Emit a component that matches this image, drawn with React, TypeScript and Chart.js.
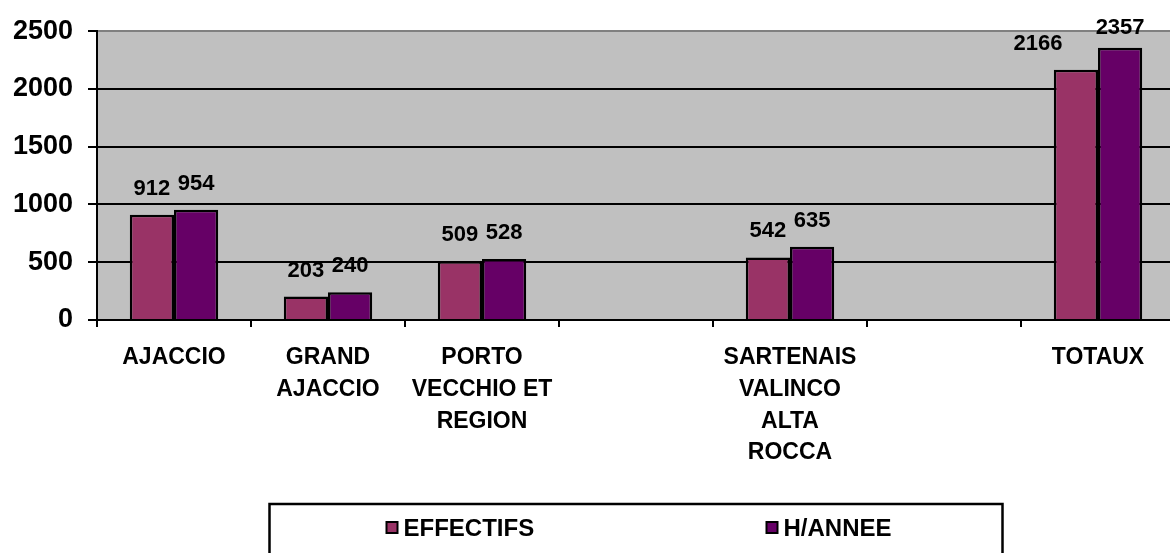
import React, { useEffect, useRef } from "react";
import { Chart, registerables } from "chart.js";

Chart.register(...registerables);

const CATEGORIES: (string | string[])[] = [
  ["AJACCIO"],
  ["GRAND", "AJACCIO"],
  ["PORTO", "VECCHIO ET", "REGION"],
  "",
  ["SARTENAIS", "VALINCO", "ALTA", "ROCCA"],
  "",
  ["TOTAUX"],
];
const SERIES_NAMES = ["EFFECTIFS", "H/ANNEE"];
const EFFECTIFS: (number | null)[] = [912, 203, 509, null, 542, null, 2166];
const H_ANNEE: (number | null)[] = [954, 240, 528, null, 635, null, 2357];
const Y_MIN = 0;
const Y_MAX = 2500;
const Y_STEP = 500;

const COLORS = ["#993366", "#660066"];
const FONT = "'Liberation Sans', Arial, sans-serif";

// manual nudges of individual value labels (as placed in the original chart)
const LABEL_NUDGE: Record<string, [number, number]> = {
  "0-6": [-38, 0],
  "1-6": [0, 6],
};

const plotBg = {
  id: "plotBg",
  beforeDraw(chart: any) {
    const { ctx, chartArea } = chart;
    ctx.save();
    ctx.fillStyle = "#C0C0C0";
    ctx.fillRect(chartArea.left, chartArea.top, chartArea.right - chartArea.left, chartArea.bottom - chartArea.top);
    ctx.restore();
  },
};

const valueLabels = {
  id: "valueLabels",
  afterDatasetsDraw(chart: any) {
    const { ctx } = chart;
    ctx.save();
    ctx.font = `bold 22px ${FONT}`;
    ctx.fillStyle = "#000";
    ctx.textAlign = "center";
    ctx.textBaseline = "alphabetic";
    chart.data.datasets.forEach((ds: any, i: number) => {
      const meta = chart.getDatasetMeta(i);
      meta.data.forEach((el: any, j: number) => {
        const v = ds.data[j];
        if (v === null || v === undefined) return;
        const [dx, dy] = LABEL_NUDGE[`${i}-${j}`] || [0, 0];
        ctx.fillText(String(v), el.x + dx, el.y - 20 + dy);
      });
    });
    ctx.restore();
  },
};

const boxLegend = {
  id: "boxLegend",
  afterDraw(chart: any) {
    const { ctx, chartArea } = chart;
    const cx = (chartArea.left + chartArea.right) / 2;
    const w = 733;
    const left = cx - w / 2;
    const top = 504;
    ctx.save();
    ctx.strokeStyle = "#000";
    ctx.lineWidth = 2.5;
    ctx.strokeRect(left, top, w, 120);
    ctx.font = `bold 24px ${FONT}`;
    ctx.textBaseline = "middle";
    ctx.textAlign = "left";
    chart.data.datasets.forEach((ds: any, i: number) => {
      const x = left + 117 + i * 380;
      const y = 528;
      ctx.fillStyle = ds.backgroundColor;
      ctx.fillRect(x, y - 6, 11, 11);
      ctx.lineWidth = 2;
      ctx.strokeStyle = "#000";
      ctx.strokeRect(x, y - 6, 11, 11);
      ctx.fillStyle = "#000";
      ctx.fillText(ds.label, x + 17, y + 1);
    });
    ctx.restore();
  },
};

export default function App() {
  const ref = useRef<HTMLCanvasElement | null>(null);

  useEffect(() => {
    document.body.style.margin = "0";
    document.body.style.overflow = "hidden";
    document.documentElement.style.overflow = "hidden";
    const canvas = ref.current;
    if (!canvas) return;
    const chart = new Chart(canvas, {
      type: "bar",
      data: {
        labels: CATEGORIES,
        datasets: [
          {
            label: SERIES_NAMES[0],
            data: EFFECTIFS,
            backgroundColor: COLORS[0],
            borderColor: "#000",
            borderWidth: 2.5,
            categoryPercentage: 0.574,
            barPercentage: 1,
          },
          {
            label: SERIES_NAMES[1],
            data: H_ANNEE,
            backgroundColor: COLORS[1],
            borderColor: "#000",
            borderWidth: 2.5,
            categoryPercentage: 0.574,
            barPercentage: 1,
          },
        ],
      },
      options: {
        responsive: false,
        animation: false,
        devicePixelRatio: 1,
        layout: { padding: { top: 27, right: 5, bottom: 0, left: 0 } },
        plugins: {
          legend: { display: false },
          tooltip: { enabled: false },
        },
        scales: {
          x: {
            offset: true,
            grid: {
              offset: true,
              drawOnChartArea: false,
              drawTicks: true,
              tickLength: 7,
              color: "#000",
              lineWidth: 2,
            },
            border: { color: "#000", width: 2 },
            ticks: {
              color: "#000",
              font: { family: FONT, size: 23, weight: "bold", lineHeight: 1.378 },
              padding: 15,
              maxRotation: 0,
              minRotation: 0,
              autoSkip: false,
            },
            afterFit(scale: any) {
              scale.height = 233;
            },
          },
          y: {
            min: Y_MIN,
            max: Y_MAX,
            grid: {
              color: (c: any) => (c.tick && c.tick.value === Y_MAX ? "#808080" : "#000"),
              tickColor: "#000",
              lineWidth: 2,
              tickLength: 9,
              drawTicks: true,
            },
            border: { color: "#000", width: 2 },
            ticks: {
              stepSize: Y_STEP,
              color: "#000",
              font: { family: FONT, size: 27, weight: "bold" },
              padding: 15,
              callback: (v: any) => String(v),
            },
            afterFit(scale: any) {
              scale.width = 97;
            },
          },
        },
      },
      plugins: [plotBg, valueLabels, boxLegend],
    });
    return () => chart.destroy();
  }, []);

  return (
    <div style={{ position: "relative", width: 1170, height: 553, overflow: "hidden" }}>
      <canvas ref={ref} width={1180} height={553} style={{ display: "block" }} />
    </div>
  );
}
